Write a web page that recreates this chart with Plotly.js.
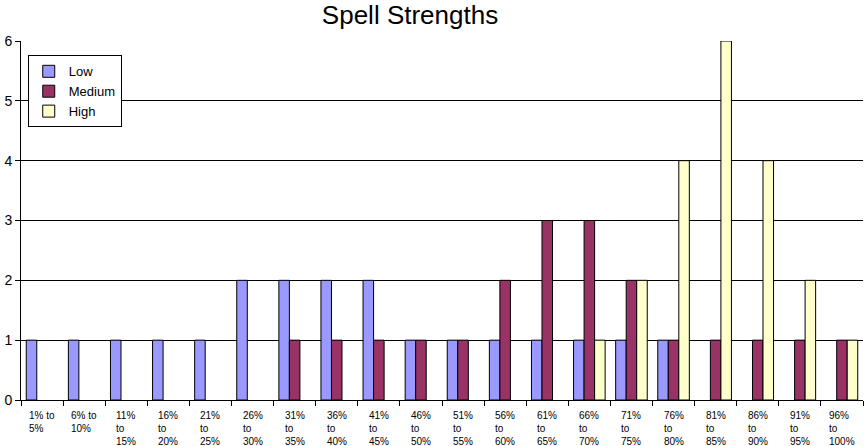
<!DOCTYPE html>
<html>
<head>
<meta charset="utf-8">
<script src="https://cdn.plot.ly/plotly-3.0.1.min.js"></script>
<style>
  body { margin: 0; padding: 0; background: #fff; }
  #chart { width: 865px; height: 446px; }
</style>
</head>
<body>
<div id="chart"></div>
<script>
// categories and counts
var categories = ["1% to 5%", "6% to 10%", "11% to 15%", "16% to 20%", "21% to 25%",
                  "26% to 30%", "31% to 35%", "36% to 40%", "41% to 45%", "46% to 50%",
                  "51% to 55%", "56% to 60%", "61% to 65%", "66% to 70%", "71% to 75%",
                  "76% to 80%", "81% to 85%", "86% to 90%", "91% to 95%", "96% to 100%"];

// wrapped labels as they appear under the axis
var tickLabels = ["1% to<br>5%", "6% to<br>10%", "11%<br>to<br>15%", "16%<br>to<br>20%", "21%<br>to<br>25%",
                  "26%<br>to<br>30%", "31%<br>to<br>35%", "36%<br>to<br>40%", "41%<br>to<br>45%", "46%<br>to<br>50%",
                  "51%<br>to<br>55%", "56%<br>to<br>60%", "61%<br>to<br>65%", "66%<br>to<br>70%", "71%<br>to<br>75%",
                  "76%<br>to<br>80%", "81%<br>to<br>85%", "86%<br>to<br>90%", "91%<br>to<br>95%", "96%<br>to<br>100%"];

var lowValues    = [1, 1, 1, 1, 1, 2, 2, 2, 2, 1, 1, 1, 1, 1, 1, 1, 0, 0, 0, 0];
var mediumValues = [0, 0, 0, 0, 0, 0, 1, 1, 1, 1, 1, 2, 3, 3, 2, 1, 1, 1, 1, 1];
var highValues   = [0, 0, 0, 0, 0, 0, 0, 0, 0, 0, 0, 0, 0, 1, 2, 4, 6, 4, 2, 1];

var yTicks = [0, 1, 2, 3, 4, 5, 6];

function makeBar(name, values, color){
  // empty counts are left out, otherwise the outline shows as a thick line on the axis
  var shown = values.map(function(v){ return v === 0 ? null : v; });
  return {
    type: 'bar',
    name: name,
    x: categories,
    y: shown,
    marker: {
      color: color,
      line: { color: '#000000', width: 1 }
    },
    hoverinfo: 'none'
  };
}

var data = [
  makeBar('Low', lowValues, '#9999FF'),
  makeBar('Medium', mediumValues, '#993366'),
  makeBar('High', highValues, '#FFFFCC')
];

// x labels are left aligned in the original, so they go in as annotations
var labelNotes = [];
for (var i = 0; i < categories.length; i++){
  labelNotes.push({
    x: categories[i],
    xref: 'x',
    y: 0,
    yref: 'paper',
    yanchor: 'top',
    xanchor: 'center',
    align: 'left',
    yshift: -8,
    showarrow: false,
    text: tickLabels[i],
    font: { family: 'Liberation Sans, Arial, sans-serif', size: 10, color: '#000000' }
  });
}

var layout = {
  width: 865,
  height: 446,
  margin: { l: 21, r: 2, t: 41, b: 46 },
  paper_bgcolor: '#ffffff',
  plot_bgcolor: '#ffffff',
  font: { family: 'Liberation Sans, Arial, sans-serif', color: '#000000' },
  title: {
    text: 'Spell Strengths',
    font: { family: 'Liberation Sans, Arial, sans-serif', size: 26, color: '#000000' },
    x: 0.474,
    xref: 'container',
    xanchor: 'center',
    y: 0.966,
    yref: 'container',
    yanchor: 'middle'
  },
  barmode: 'group',
  bargap: 0.25,
  bargroupgap: 0,
  showlegend: true,
  legend: {
    x: 0.008,
    xanchor: 'left',
    y: 0.96,
    yanchor: 'top',
    itemwidth: 30,
    bgcolor: '#ffffff',
    bordercolor: '#000000',
    borderwidth: 1,
    font: { family: 'Liberation Sans, Arial, sans-serif', size: 13, color: '#000000' }
  },
  xaxis: {
    type: 'category',
    categoryarray: categories,
    showticklabels: false,
    tickson: 'boundaries',
    ticks: 'outside',
    ticklen: 5,
    tickcolor: '#000000',
    showline: true,
    linecolor: '#000000',
    linewidth: 1,
    showgrid: false,
    zeroline: false,
    fixedrange: true
  },
  yaxis: {
    range: [0, 6],
    tickvals: yTicks,
    ticks: 'outside',
    ticklen: 5,
    tickcolor: '#000000',
    tickfont: { family: 'Liberation Sans, Arial, sans-serif', size: 14, color: '#000000' },
    showline: true,
    linecolor: '#000000',
    linewidth: 1,
    showgrid: true,
    gridcolor: '#000000',
    gridwidth: 1,
    zeroline: false,
    fixedrange: true
  },
  annotations: labelNotes
};

Plotly.newPlot('chart', data, layout, { displayModeBar: false, staticPlot: true });
</script>
</body>
</html>
